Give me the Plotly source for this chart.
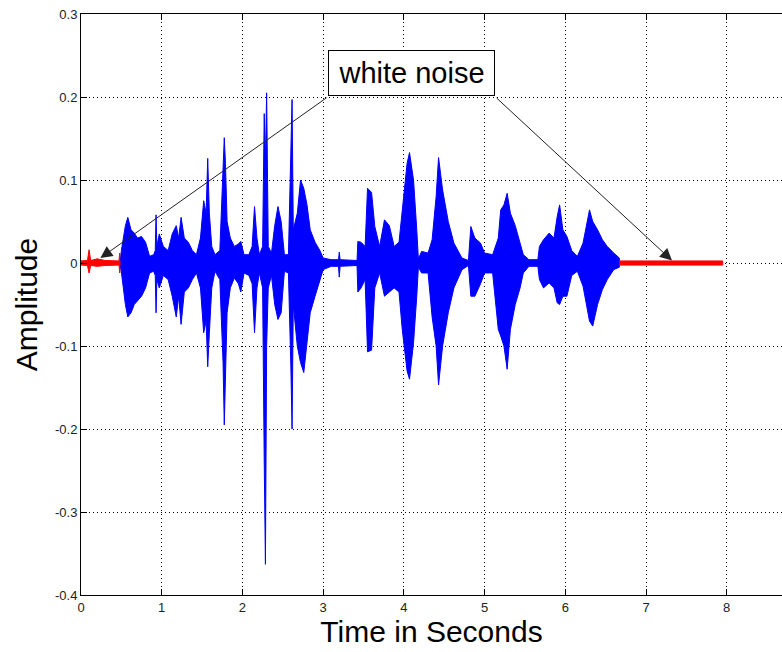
import plotly.graph_objects as go

# ---- data (envelope of waveform) ----
speech_t = [0.49, 0.50, 0.55, 0.58, 0.62, 0.66, 0.70, 0.75, 0.80, 0.85, 0.90, 0.92, 0.93, 0.94, 0.97,
            1.02, 1.08, 1.13, 1.18, 1.21, 1.24, 1.28, 1.33, 1.38, 1.43, 1.48, 1.52, 1.55, 1.57, 1.59,
            1.62, 1.66, 1.72, 1.76, 1.775, 1.79, 1.81, 1.85, 1.90, 1.95, 1.98, 2.02, 2.08, 2.12, 2.15,
            2.18, 2.21, 2.25, 2.27, 2.285, 2.30, 2.32, 2.36, 2.40, 2.44, 2.48, 2.52, 2.57, 2.60, 2.615,
            2.63, 2.68, 2.72, 2.76, 2.80, 2.84, 2.90, 2.96, 3.00, 3.10, 3.19, 3.20, 3.21, 3.42, 3.43,
            3.47, 3.52, 3.55, 3.60, 3.64, 3.70, 3.76, 3.82, 3.88, 3.94, 3.98, 4.04, 4.07, 4.12, 4.16,
            4.18, 4.22, 4.30, 4.35, 4.40, 4.43, 4.48, 4.55, 4.62, 4.72, 4.80, 4.83, 4.88, 4.95, 5.00,
            5.10, 5.17, 5.20, 5.24, 5.28, 5.32, 5.38, 5.44, 5.48, 5.55, 5.66, 5.68, 5.73, 5.80, 5.86,
            5.90, 5.93, 5.97, 6.02, 6.08, 6.15, 6.22, 6.30, 6.34, 6.40, 6.46, 6.52, 6.60, 6.67]
speech_hi = [0.003, 0.015, 0.045, 0.055, 0.040, 0.036, 0.030, 0.032, 0.025, 0.008, 0.010, 0.015, 0.058, 0.020, 0.035,
             0.020, 0.015, 0.035, 0.045, 0.030, 0.055, 0.030, 0.025, 0.015, 0.010, 0.030, 0.075, 0.060, 0.126, 0.060,
             0.020, 0.010, 0.015, 0.100, 0.151, 0.120, 0.050, 0.030, 0.020, 0.023, 0.026, 0.010, 0.010, 0.020, 0.068,
             0.030, 0.010, 0.020, 0.180, 0.120, 0.205, 0.020, 0.012, 0.045, 0.068, 0.050, 0.010, 0.010, 0.127, 0.197,
             0.040, 0.060, 0.100, 0.090, 0.070, 0.040, 0.025, 0.015, 0.006, 0.004, 0.004, 0.013, 0.004, 0.003, 0.026,
             0.025, 0.020, 0.090, 0.085, 0.044, 0.020, 0.052, 0.045, 0.020, 0.025, 0.060, 0.120, 0.133, 0.100, 0.040,
             0.005, 0.014, 0.012, 0.028, 0.080, 0.127, 0.088, 0.050, 0.024, 0.006, 0.003, 0.044, 0.030, 0.024, 0.012,
             0.010, 0.030, 0.064, 0.070, 0.084, 0.060, 0.045, 0.025, 0.010, 0.004, 0.004, 0.020, 0.028, 0.036, 0.030,
             0.056, 0.070, 0.040, 0.032, 0.015, 0.008, 0.024, 0.064, 0.050, 0.040, 0.028, 0.020, 0.012, 0.006]
speech_lo = [-0.003, -0.015, -0.050, -0.065, -0.060, -0.050, -0.045, -0.040, -0.030, -0.012, -0.010, -0.015, -0.060, -0.020, -0.030,
             -0.015, -0.020, -0.040, -0.065, -0.040, -0.074, -0.035, -0.030, -0.020, -0.012, -0.030, -0.084, -0.070, -0.125, -0.085,
             -0.030, -0.010, -0.020, -0.120, -0.195, -0.160, -0.060, -0.030, -0.018, -0.025, -0.035, -0.012, -0.015, -0.025, -0.084,
             -0.030, -0.012, -0.030, -0.240, -0.363, -0.100, -0.030, -0.015, -0.050, -0.068, -0.060, -0.010, -0.012, -0.125, -0.200,
             -0.050, -0.100, -0.120, -0.132, -0.100, -0.060, -0.040, -0.020, -0.008, -0.004, -0.004, -0.017, -0.004, -0.003, -0.035,
             -0.030, -0.020, -0.107, -0.105, -0.030, -0.012, -0.040, -0.035, -0.030, -0.035, -0.080, -0.130, -0.140, -0.096, -0.040,
             -0.005, -0.012, -0.012, -0.065, -0.100, -0.147, -0.100, -0.060, -0.030, -0.008, -0.003, -0.040, -0.040, -0.025, -0.012,
             -0.012, -0.080, -0.088, -0.100, -0.128, -0.080, -0.050, -0.030, -0.012, -0.004, -0.004, -0.020, -0.030, -0.024, -0.030,
             -0.048, -0.050, -0.040, -0.040, -0.015, -0.010, -0.028, -0.070, -0.076, -0.050, -0.032, -0.020, -0.008, -0.005]

noise1_t = [0.00, 0.08, 0.10, 0.12, 0.20, 0.30, 0.47, 0.48, 0.49]
noise1_hi = [0.0025, 0.003, 0.016, 0.003, 0.005, 0.003, 0.0025, 0.012, 0.0025]
noise1_lo = [-0.0025, -0.003, -0.012, -0.003, -0.004, -0.003, -0.0025, -0.012, -0.0025]

noise2_t = [6.67, 7.00, 7.40, 7.70, 7.95]
noise2_hi = [0.0025, 0.0025, 0.003, 0.0025, 0.0025]
noise2_lo = [-0.0025, -0.0025, -0.003, -0.0025, -0.0025]

x_ticks = [0, 1, 2, 3, 4, 5, 6, 7, 8]
y_ticks = [0.3, 0.2, 0.1, 0, -0.1, -0.2, -0.3, -0.4]
y_ticklabels = ["0.3", "0.2", "0.1", "0", "-0.1", "-0.2", "-0.3", "-0.4"]

FONT = "Liberation Sans, Arial, sans-serif"


def band(t, hi, lo, color):
    return go.Scatter(
        x=list(t) + list(t)[::-1],
        y=list(hi) + list(lo)[::-1],
        mode="lines",
        fill="toself",
        fillcolor=color,
        line=dict(color=color, width=1),
        hoverinfo="skip",
        showlegend=False,
    )


fig = go.Figure()
fig.add_trace(band(noise1_t, noise1_hi, noise1_lo, "#ff0000"))
fig.add_trace(band(speech_t, speech_hi, speech_lo, "#0000ff"))
fig.add_trace(band(noise2_t, noise2_hi, noise2_lo, "#ff0000"))

axis_common = dict(
    showline=True, linecolor="black", linewidth=1,
    ticks="inside", ticklen=6, tickcolor="black", tickwidth=1,
    showgrid=True, gridcolor="black", gridwidth=1, griddash="1px,3px",
    zeroline=False,
    tickfont=dict(family=FONT, size=13, color="#222222"),
)

fig.update_layout(
    width=782, height=652,
    margin=dict(l=81, r=0, t=14, b=57),
    paper_bgcolor="white", plot_bgcolor="white",
    font=dict(family=FONT, color="black"),
    xaxis=dict(
        range=[0, 8.685], tickvals=x_ticks, mirror="ticks",
        title=dict(text="Time in Seconds", font=dict(family=FONT, size=30), standoff=5),
        **axis_common,
    ),
    yaxis=dict(
        range=[-0.4, 0.3], tickvals=y_ticks, ticktext=y_ticklabels, mirror=False,
        title=dict(text="Amplitude", font=dict(family=FONT, size=30), standoff=8),
        **axis_common,
    ),
)

# annotation box
fig.add_annotation(
    x=4.096, y=0.2287, xref="x", yref="y", text="white noise", showarrow=False,
    font=dict(family=FONT, size=29, color="black"),
    bgcolor="white", bordercolor="black", borderwidth=1, borderpad=2,
    width=161, height=40,
)
for hx, hy, tx in [(0.24, 0.006, 3.062), (7.322, 0.003, 5.131)]:
    fig.add_annotation(
        x=hx, y=hy, ax=tx, ay=0.2004, xref="x", yref="y", axref="x", ayref="y",
        text="", showarrow=True, arrowhead=2, arrowsize=2.4, arrowwidth=1,
        arrowcolor="#222222", standoff=0, startstandoff=0,
    )

fig.write_html("out.html")
